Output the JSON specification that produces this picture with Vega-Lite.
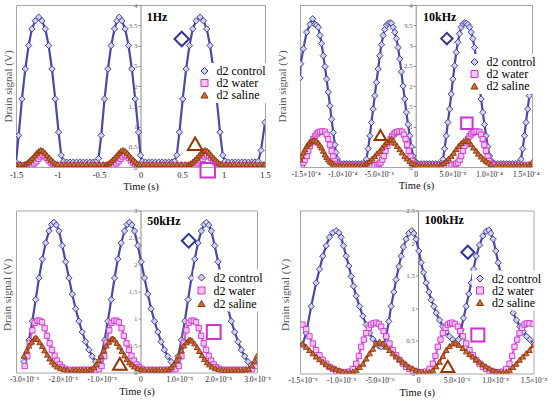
{
"$schema": "https://vega.github.io/schema/vega-lite/v6.json",
"background": "white",
"padding": 0,
"columns": 2,
"bounds": "flush",
"spacing": {"row": 43.5, "column": 35},
"datasets": {
"p1": [
{"s":"d2 control","t":-1.5,"v":0.12},{"s":"d2 control","t":-1.468,"v":0.78},{"s":"d2 control","t":-1.428,"v":1.68},{"s":"d2 control","t":-1.388,"v":2.42},{"s":"d2 control","t":-1.348,"v":3.0},{"s":"d2 control","t":-1.308,"v":3.41},{"s":"d2 control","t":-1.268,"v":3.61},{"s":"d2 control","t":-1.227,"v":3.7},{"s":"d2 control","t":-1.187,"v":3.61},{"s":"d2 control","t":-1.147,"v":3.41},{"s":"d2 control","t":-1.107,"v":3.0},{"s":"d2 control","t":-1.067,"v":2.42},{"s":"d2 control","t":-1.027,"v":1.68},{"s":"d2 control","t":-0.987,"v":0.86},{"s":"d2 control","t":-0.955,"v":0.29},{"s":"d2 control","t":-0.927,"v":0.14},{"s":"d2 control","t":-0.89,"v":0.12},{"s":"d2 control","t":-0.85,"v":0.12},{"s":"d2 control","t":-0.81,"v":0.12},{"s":"d2 control","t":-0.77,"v":0.12},{"s":"d2 control","t":-0.73,"v":0.12},{"s":"d2 control","t":-0.69,"v":0.12},{"s":"d2 control","t":-0.65,"v":0.12},{"s":"d2 control","t":-0.61,"v":0.12},{"s":"d2 control","t":-0.57,"v":0.12},{"s":"d2 control","t":-0.535,"v":0.13},{"s":"d2 control","t":-0.505,"v":0.21},{"s":"d2 control","t":-0.473,"v":0.78},{"s":"d2 control","t":-0.433,"v":1.68},{"s":"d2 control","t":-0.393,"v":2.42},{"s":"d2 control","t":-0.353,"v":3.0},{"s":"d2 control","t":-0.313,"v":3.41},{"s":"d2 control","t":-0.285,"v":3.61},{"s":"d2 control","t":-0.257,"v":3.7},{"s":"d2 control","t":-0.225,"v":3.61},{"s":"d2 control","t":-0.185,"v":3.41},{"s":"d2 control","t":-0.144,"v":3.0},{"s":"d2 control","t":-0.104,"v":2.42},{"s":"d2 control","t":-0.064,"v":1.68},{"s":"d2 control","t":-0.024,"v":0.86},{"s":"d2 control","t":0.0,"v":0.29},{"s":"d2 control","t":0.024,"v":0.14},{"s":"d2 control","t":0.06,"v":0.12},{"s":"d2 control","t":0.1,"v":0.12},{"s":"d2 control","t":0.14,"v":0.12},{"s":"d2 control","t":0.18,"v":0.12},{"s":"d2 control","t":0.22,"v":0.12},{"s":"d2 control","t":0.26,"v":0.12},{"s":"d2 control","t":0.3,"v":0.12},{"s":"d2 control","t":0.34,"v":0.12},{"s":"d2 control","t":0.38,"v":0.12},{"s":"d2 control","t":0.41,"v":0.14},{"s":"d2 control","t":0.437,"v":0.29},{"s":"d2 control","t":0.469,"v":0.86},{"s":"d2 control","t":0.509,"v":1.68},{"s":"d2 control","t":0.55,"v":2.42},{"s":"d2 control","t":0.59,"v":3.0},{"s":"d2 control","t":0.63,"v":3.41},{"s":"d2 control","t":0.67,"v":3.61},{"s":"d2 control","t":0.718,"v":3.7},{"s":"d2 control","t":0.758,"v":3.61},{"s":"d2 control","t":0.798,"v":3.41},{"s":"d2 control","t":0.838,"v":3.0},{"s":"d2 control","t":0.878,"v":2.42},{"s":"d2 control","t":0.918,"v":1.68},{"s":"d2 control","t":0.958,"v":0.86},{"s":"d2 control","t":0.991,"v":0.29},{"s":"d2 control","t":1.019,"v":0.14},{"s":"d2 control","t":1.06,"v":0.12},{"s":"d2 control","t":1.1,"v":0.12},{"s":"d2 control","t":1.14,"v":0.12},{"s":"d2 control","t":1.18,"v":0.12},{"s":"d2 control","t":1.22,"v":0.12},{"s":"d2 control","t":1.26,"v":0.12},{"s":"d2 control","t":1.3,"v":0.12},{"s":"d2 control","t":1.34,"v":0.12},{"s":"d2 control","t":1.38,"v":0.12},{"s":"d2 control","t":1.42,"v":0.14},{"s":"d2 control","t":1.452,"v":0.41},{"s":"d2 control","t":1.5,"v":1.1},
{"s":"d2 water","t":-1.5,"v":0.04},{"s":"d2 water","t":-1.45,"v":0.04},{"s":"d2 water","t":-1.4,"v":0.04},{"s":"d2 water","t":-1.35,"v":0.04},{"s":"d2 water","t":-1.305,"v":0.06},{"s":"d2 water","t":-1.28,"v":0.09},{"s":"d2 water","t":-1.255,"v":0.14},{"s":"d2 water","t":-1.23,"v":0.2},{"s":"d2 water","t":-1.205,"v":0.26},{"s":"d2 water","t":-1.18,"v":0.3},{"s":"d2 water","t":-1.155,"v":0.27},{"s":"d2 water","t":-1.13,"v":0.22},{"s":"d2 water","t":-1.105,"v":0.16},{"s":"d2 water","t":-1.08,"v":0.11},{"s":"d2 water","t":-1.055,"v":0.07},{"s":"d2 water","t":-1.03,"v":0.05},{"s":"d2 water","t":-1.005,"v":0.04},{"s":"d2 water","t":-0.96,"v":0.04},{"s":"d2 water","t":-0.91,"v":0.04},{"s":"d2 water","t":-0.86,"v":0.04},{"s":"d2 water","t":-0.81,"v":0.04},{"s":"d2 water","t":-0.76,"v":0.04},{"s":"d2 water","t":-0.71,"v":0.04},{"s":"d2 water","t":-0.66,"v":0.04},{"s":"d2 water","t":-0.61,"v":0.04},{"s":"d2 water","t":-0.56,"v":0.04},{"s":"d2 water","t":-0.51,"v":0.04},{"s":"d2 water","t":-0.46,"v":0.04},{"s":"d2 water","t":-0.4,"v":0.04},{"s":"d2 water","t":-0.365,"v":0.04},{"s":"d2 water","t":-0.315,"v":0.06},{"s":"d2 water","t":-0.29,"v":0.09},{"s":"d2 water","t":-0.265,"v":0.14},{"s":"d2 water","t":-0.24,"v":0.2},{"s":"d2 water","t":-0.215,"v":0.26},{"s":"d2 water","t":-0.19,"v":0.3},{"s":"d2 water","t":-0.165,"v":0.27},{"s":"d2 water","t":-0.14,"v":0.22},{"s":"d2 water","t":-0.115,"v":0.16},{"s":"d2 water","t":-0.09,"v":0.11},{"s":"d2 water","t":-0.065,"v":0.07},{"s":"d2 water","t":-0.04,"v":0.05},{"s":"d2 water","t":-0.015,"v":0.04},{"s":"d2 water","t":0.03,"v":0.04},{"s":"d2 water","t":0.08,"v":0.04},{"s":"d2 water","t":0.13,"v":0.04},{"s":"d2 water","t":0.18,"v":0.04},{"s":"d2 water","t":0.23,"v":0.04},{"s":"d2 water","t":0.28,"v":0.04},{"s":"d2 water","t":0.33,"v":0.04},{"s":"d2 water","t":0.38,"v":0.04},{"s":"d2 water","t":0.43,"v":0.04},{"s":"d2 water","t":0.48,"v":0.04},{"s":"d2 water","t":0.53,"v":0.04},{"s":"d2 water","t":0.6,"v":0.04},{"s":"d2 water","t":0.65,"v":0.04},{"s":"d2 water","t":0.675,"v":0.06},{"s":"d2 water","t":0.7,"v":0.09},{"s":"d2 water","t":0.725,"v":0.14},{"s":"d2 water","t":0.75,"v":0.2},{"s":"d2 water","t":0.775,"v":0.26},{"s":"d2 water","t":0.8,"v":0.3},{"s":"d2 water","t":0.825,"v":0.27},{"s":"d2 water","t":0.85,"v":0.22},{"s":"d2 water","t":0.875,"v":0.16},{"s":"d2 water","t":0.9,"v":0.11},{"s":"d2 water","t":0.925,"v":0.07},{"s":"d2 water","t":0.95,"v":0.05},{"s":"d2 water","t":0.975,"v":0.04},{"s":"d2 water","t":1.02,"v":0.04},{"s":"d2 water","t":1.07,"v":0.04},{"s":"d2 water","t":1.12,"v":0.04},{"s":"d2 water","t":1.17,"v":0.04},{"s":"d2 water","t":1.22,"v":0.04},{"s":"d2 water","t":1.27,"v":0.04},{"s":"d2 water","t":1.32,"v":0.04},{"s":"d2 water","t":1.37,"v":0.04},{"s":"d2 water","t":1.42,"v":0.04},{"s":"d2 water","t":1.47,"v":0.04},{"s":"d2 water","t":1.5,"v":0.04},
{"s":"d2 saline","t":-1.5,"v":0.07},{"s":"d2 saline","t":-1.45,"v":0.07},{"s":"d2 saline","t":-1.4,"v":0.07},{"s":"d2 saline","t":-1.375,"v":0.09},{"s":"d2 saline","t":-1.35,"v":0.13},{"s":"d2 saline","t":-1.325,"v":0.18},{"s":"d2 saline","t":-1.3,"v":0.23},{"s":"d2 saline","t":-1.275,"v":0.29},{"s":"d2 saline","t":-1.25,"v":0.35},{"s":"d2 saline","t":-1.225,"v":0.4},{"s":"d2 saline","t":-1.2,"v":0.42},{"s":"d2 saline","t":-1.175,"v":0.4},{"s":"d2 saline","t":-1.15,"v":0.35},{"s":"d2 saline","t":-1.125,"v":0.29},{"s":"d2 saline","t":-1.1,"v":0.23},{"s":"d2 saline","t":-1.075,"v":0.18},{"s":"d2 saline","t":-1.05,"v":0.13},{"s":"d2 saline","t":-1.025,"v":0.09},{"s":"d2 saline","t":-1.0,"v":0.07},{"s":"d2 saline","t":-0.95,"v":0.07},{"s":"d2 saline","t":-0.9,"v":0.07},{"s":"d2 saline","t":-0.85,"v":0.07},{"s":"d2 saline","t":-0.8,"v":0.07},{"s":"d2 saline","t":-0.75,"v":0.07},{"s":"d2 saline","t":-0.7,"v":0.07},{"s":"d2 saline","t":-0.65,"v":0.07},{"s":"d2 saline","t":-0.6,"v":0.07},{"s":"d2 saline","t":-0.55,"v":0.07},{"s":"d2 saline","t":-0.5,"v":0.07},{"s":"d2 saline","t":-0.45,"v":0.07},{"s":"d2 saline","t":-0.41,"v":0.07},{"s":"d2 saline","t":-0.385,"v":0.09},{"s":"d2 saline","t":-0.36,"v":0.13},{"s":"d2 saline","t":-0.335,"v":0.18},{"s":"d2 saline","t":-0.31,"v":0.23},{"s":"d2 saline","t":-0.285,"v":0.29},{"s":"d2 saline","t":-0.26,"v":0.35},{"s":"d2 saline","t":-0.235,"v":0.4},{"s":"d2 saline","t":-0.21,"v":0.42},{"s":"d2 saline","t":-0.185,"v":0.4},{"s":"d2 saline","t":-0.16,"v":0.35},{"s":"d2 saline","t":-0.135,"v":0.29},{"s":"d2 saline","t":-0.11,"v":0.23},{"s":"d2 saline","t":-0.085,"v":0.18},{"s":"d2 saline","t":-0.06,"v":0.13},{"s":"d2 saline","t":-0.035,"v":0.09},{"s":"d2 saline","t":-0.01,"v":0.07},{"s":"d2 saline","t":0.04,"v":0.07},{"s":"d2 saline","t":0.09,"v":0.07},{"s":"d2 saline","t":0.14,"v":0.07},{"s":"d2 saline","t":0.19,"v":0.07},{"s":"d2 saline","t":0.24,"v":0.07},{"s":"d2 saline","t":0.29,"v":0.07},{"s":"d2 saline","t":0.34,"v":0.07},{"s":"d2 saline","t":0.39,"v":0.07},{"s":"d2 saline","t":0.44,"v":0.07},{"s":"d2 saline","t":0.49,"v":0.07},{"s":"d2 saline","t":0.54,"v":0.07},{"s":"d2 saline","t":0.58,"v":0.07},{"s":"d2 saline","t":0.605,"v":0.09},{"s":"d2 saline","t":0.63,"v":0.13},{"s":"d2 saline","t":0.655,"v":0.18},{"s":"d2 saline","t":0.68,"v":0.23},{"s":"d2 saline","t":0.705,"v":0.29},{"s":"d2 saline","t":0.73,"v":0.35},{"s":"d2 saline","t":0.755,"v":0.4},{"s":"d2 saline","t":0.78,"v":0.42},{"s":"d2 saline","t":0.805,"v":0.4},{"s":"d2 saline","t":0.83,"v":0.35},{"s":"d2 saline","t":0.855,"v":0.29},{"s":"d2 saline","t":0.88,"v":0.23},{"s":"d2 saline","t":0.905,"v":0.18},{"s":"d2 saline","t":0.93,"v":0.13},{"s":"d2 saline","t":0.955,"v":0.09},{"s":"d2 saline","t":0.98,"v":0.07},{"s":"d2 saline","t":1.03,"v":0.07},{"s":"d2 saline","t":1.08,"v":0.07},{"s":"d2 saline","t":1.13,"v":0.07},{"s":"d2 saline","t":1.18,"v":0.07},{"s":"d2 saline","t":1.23,"v":0.07},{"s":"d2 saline","t":1.28,"v":0.07},{"s":"d2 saline","t":1.33,"v":0.07},{"s":"d2 saline","t":1.38,"v":0.07},{"s":"d2 saline","t":1.43,"v":0.07},{"s":"d2 saline","t":1.48,"v":0.07},{"s":"d2 saline","t":1.5,"v":0.07}
],
"p2": [
{"s":"d2 control","t":-15.75e-5,"v":2.2},{"s":"d2 control","t":-15.66e-5,"v":2.55},{"s":"d2 control","t":-15.29e-5,"v":2.92},{"s":"d2 control","t":-14.84e-5,"v":3.33},{"s":"d2 control","t":-14.39e-5,"v":3.52},{"s":"d2 control","t":-14.03e-5,"v":3.66},{"s":"d2 control","t":-13.71e-5,"v":3.52},{"s":"d2 control","t":-13.48e-5,"v":3.5},{"s":"d2 control","t":-13.26e-5,"v":3.45},{"s":"d2 control","t":-13.03e-5,"v":3.25},{"s":"d2 control","t":-12.81e-5,"v":3.05},{"s":"d2 control","t":-12.58e-5,"v":2.75},{"s":"d2 control","t":-12.35e-5,"v":2.48},{"s":"d2 control","t":-12.13e-5,"v":2.17},{"s":"d2 control","t":-11.9e-5,"v":1.85},{"s":"d2 control","t":-11.67e-5,"v":1.51},{"s":"d2 control","t":-11.45e-5,"v":1.18},{"s":"d2 control","t":-11.22e-5,"v":0.85},{"s":"d2 control","t":-11.0e-5,"v":0.55},{"s":"d2 control","t":-10.86e-5,"v":0.36},{"s":"d2 control","t":-10.68e-5,"v":0.2},{"s":"d2 control","t":-10.54e-5,"v":0.11},{"s":"d2 control","t":-10.2e-5,"v":0.08},{"s":"d2 control","t":-9.8e-5,"v":0.08},{"s":"d2 control","t":-9.4e-5,"v":0.08},{"s":"d2 control","t":-9.0e-5,"v":0.08},{"s":"d2 control","t":-8.6e-5,"v":0.08},{"s":"d2 control","t":-8.2e-5,"v":0.08},{"s":"d2 control","t":-7.8e-5,"v":0.08},{"s":"d2 control","t":-7.4e-5,"v":0.08},{"s":"d2 control","t":-7.05e-5,"v":0.1},{"s":"d2 control","t":-6.7e-5,"v":0.19},{"s":"d2 control","t":-6.47e-5,"v":0.45},{"s":"d2 control","t":-6.24e-5,"v":0.77},{"s":"d2 control","t":-6.02e-5,"v":1.1},{"s":"d2 control","t":-5.79e-5,"v":1.43},{"s":"d2 control","t":-5.57e-5,"v":1.76},{"s":"d2 control","t":-5.34e-5,"v":2.09},{"s":"d2 control","t":-5.11e-5,"v":2.42},{"s":"d2 control","t":-4.89e-5,"v":2.75},{"s":"d2 control","t":-4.66e-5,"v":3.02},{"s":"d2 control","t":-4.43e-5,"v":3.25},{"s":"d2 control","t":-4.21e-5,"v":3.4},{"s":"d2 control","t":-3.98e-5,"v":3.5},{"s":"d2 control","t":-3.75e-5,"v":3.54},{"s":"d2 control","t":-3.53e-5,"v":3.56},{"s":"d2 control","t":-3.3e-5,"v":3.55},{"s":"d2 control","t":-3.08e-5,"v":3.45},{"s":"d2 control","t":-2.85e-5,"v":3.33},{"s":"d2 control","t":-2.62e-5,"v":3.17},{"s":"d2 control","t":-2.4e-5,"v":2.95},{"s":"d2 control","t":-2.17e-5,"v":2.67},{"s":"d2 control","t":-1.95e-5,"v":2.35},{"s":"d2 control","t":-1.72e-5,"v":2.0},{"s":"d2 control","t":-1.49e-5,"v":1.68},{"s":"d2 control","t":-1.27e-5,"v":1.35},{"s":"d2 control","t":-1.04e-5,"v":1.05},{"s":"d2 control","t":-0.81e-5,"v":0.77},{"s":"d2 control","t":-0.59e-5,"v":0.5},{"s":"d2 control","t":-0.36e-5,"v":0.27},{"s":"d2 control","t":-0.14e-5,"v":0.15},{"s":"d2 control","t":0,"v":0.11},{"s":"d2 control","t":0.3e-5,"v":0.08},{"s":"d2 control","t":0.7e-5,"v":0.08},{"s":"d2 control","t":1.1e-5,"v":0.08},{"s":"d2 control","t":1.5e-5,"v":0.08},{"s":"d2 control","t":1.9e-5,"v":0.08},{"s":"d2 control","t":2.3e-5,"v":0.08},{"s":"d2 control","t":2.7e-5,"v":0.08},{"s":"d2 control","t":3.1e-5,"v":0.08},{"s":"d2 control","t":3.48e-5,"v":0.1},{"s":"d2 control","t":3.71e-5,"v":0.19},{"s":"d2 control","t":3.94e-5,"v":0.45},{"s":"d2 control","t":4.16e-5,"v":0.77},{"s":"d2 control","t":4.39e-5,"v":1.1},{"s":"d2 control","t":4.62e-5,"v":1.43},{"s":"d2 control","t":4.84e-5,"v":1.8},{"s":"d2 control","t":5.07e-5,"v":2.17},{"s":"d2 control","t":5.3e-5,"v":2.5},{"s":"d2 control","t":5.52e-5,"v":2.83},{"s":"d2 control","t":5.75e-5,"v":3.08},{"s":"d2 control","t":5.97e-5,"v":3.29},{"s":"d2 control","t":6.2e-5,"v":3.45},{"s":"d2 control","t":6.43e-5,"v":3.53},{"s":"d2 control","t":6.65e-5,"v":3.56},{"s":"d2 control","t":6.88e-5,"v":3.55},{"s":"d2 control","t":7.1e-5,"v":3.52},{"s":"d2 control","t":7.33e-5,"v":3.45},{"s":"d2 control","t":7.56e-5,"v":3.33},{"s":"d2 control","t":7.78e-5,"v":3.17},{"s":"d2 control","t":8.01e-5,"v":2.95},{"s":"d2 control","t":8.24e-5,"v":2.67},{"s":"d2 control","t":8.46e-5,"v":2.35},{"s":"d2 control","t":8.69e-5,"v":2.0},{"s":"d2 control","t":8.91e-5,"v":1.68},{"s":"d2 control","t":9.14e-5,"v":1.35},{"s":"d2 control","t":9.37e-5,"v":1.05},{"s":"d2 control","t":9.59e-5,"v":0.77},{"s":"d2 control","t":9.82e-5,"v":0.5},{"s":"d2 control","t":10.05e-5,"v":0.27},{"s":"d2 control","t":10.27e-5,"v":0.15},{"s":"d2 control","t":10.41e-5,"v":0.11},{"s":"d2 control","t":10.8e-5,"v":0.08},{"s":"d2 control","t":11.2e-5,"v":0.08},{"s":"d2 control","t":11.6e-5,"v":0.08},{"s":"d2 control","t":12.0e-5,"v":0.08},{"s":"d2 control","t":12.4e-5,"v":0.08},{"s":"d2 control","t":12.8e-5,"v":0.08},{"s":"d2 control","t":13.2e-5,"v":0.08},{"s":"d2 control","t":13.6e-5,"v":0.08},{"s":"d2 control","t":14.0e-5,"v":0.1},{"s":"d2 control","t":14.34e-5,"v":0.19},{"s":"d2 control","t":14.57e-5,"v":0.45},{"s":"d2 control","t":14.8e-5,"v":0.77},{"s":"d2 control","t":15.02e-5,"v":1.1},{"s":"d2 control","t":15.25e-5,"v":1.43},{"s":"d2 control","t":15.48e-5,"v":1.76},{"s":"d2 control","t":15.7e-5,"v":2.1},{"s":"d2 control","t":15.84e-5,"v":2.35},
{"s":"d2 water","t":-15.75e-5,"v":0.05},{"s":"d2 water","t":-15.5e-5,"v":0.06},{"s":"d2 water","t":-15.29e-5,"v":0.11},{"s":"d2 water","t":-15.07e-5,"v":0.18},{"s":"d2 water","t":-14.84e-5,"v":0.27},{"s":"d2 water","t":-14.62e-5,"v":0.4},{"s":"d2 water","t":-14.39e-5,"v":0.52},{"s":"d2 water","t":-14.16e-5,"v":0.61},{"s":"d2 water","t":-13.94e-5,"v":0.69},{"s":"d2 water","t":-13.71e-5,"v":0.76},{"s":"d2 water","t":-13.48e-5,"v":0.81},{"s":"d2 water","t":-13.26e-5,"v":0.85},{"s":"d2 water","t":-13.03e-5,"v":0.87},{"s":"d2 water","t":-12.71e-5,"v":0.88},{"s":"d2 water","t":-12.35e-5,"v":0.87},{"s":"d2 water","t":-12.13e-5,"v":0.8},{"s":"d2 water","t":-11.9e-5,"v":0.69},{"s":"d2 water","t":-11.67e-5,"v":0.55},{"s":"d2 water","t":-11.45e-5,"v":0.4},{"s":"d2 water","t":-11.22e-5,"v":0.26},{"s":"d2 water","t":-11.0e-5,"v":0.15},{"s":"d2 water","t":-10.77e-5,"v":0.08},{"s":"d2 water","t":-10.4e-5,"v":0.05},{"s":"d2 water","t":-10.0e-5,"v":0.05},{"s":"d2 water","t":-9.6e-5,"v":0.05},{"s":"d2 water","t":-9.2e-5,"v":0.05},{"s":"d2 water","t":-8.8e-5,"v":0.05},{"s":"d2 water","t":-8.4e-5,"v":0.05},{"s":"d2 water","t":-8.0e-5,"v":0.05},{"s":"d2 water","t":-7.6e-5,"v":0.05},{"s":"d2 water","t":-7.2e-5,"v":0.05},{"s":"d2 water","t":-6.8e-5,"v":0.05},{"s":"d2 water","t":-6.4e-5,"v":0.05},{"s":"d2 water","t":-6.0e-5,"v":0.05},{"s":"d2 water","t":-5.6e-5,"v":0.05},{"s":"d2 water","t":-5.2e-5,"v":0.05},{"s":"d2 water","t":-5.0e-5,"v":0.08},{"s":"d2 water","t":-4.78e-5,"v":0.11},{"s":"d2 water","t":-4.55e-5,"v":0.18},{"s":"d2 water","t":-4.33e-5,"v":0.27},{"s":"d2 water","t":-4.1e-5,"v":0.4},{"s":"d2 water","t":-3.87e-5,"v":0.52},{"s":"d2 water","t":-3.65e-5,"v":0.61},{"s":"d2 water","t":-3.42e-5,"v":0.69},{"s":"d2 water","t":-3.19e-5,"v":0.76},{"s":"d2 water","t":-2.97e-5,"v":0.81},{"s":"d2 water","t":-2.74e-5,"v":0.85},{"s":"d2 water","t":-2.51e-5,"v":0.87},{"s":"d2 water","t":-2.2e-5,"v":0.88},{"s":"d2 water","t":-1.84e-5,"v":0.87},{"s":"d2 water","t":-1.61e-5,"v":0.8},{"s":"d2 water","t":-1.38e-5,"v":0.69},{"s":"d2 water","t":-1.16e-5,"v":0.55},{"s":"d2 water","t":-0.93e-5,"v":0.4},{"s":"d2 water","t":-0.7e-5,"v":0.26},{"s":"d2 water","t":-0.48e-5,"v":0.15},{"s":"d2 water","t":-0.25e-5,"v":0.08},{"s":"d2 water","t":0.1e-5,"v":0.05},{"s":"d2 water","t":0.5e-5,"v":0.05},{"s":"d2 water","t":0.9e-5,"v":0.05},{"s":"d2 water","t":1.3e-5,"v":0.05},{"s":"d2 water","t":1.7e-5,"v":0.05},{"s":"d2 water","t":2.1e-5,"v":0.05},{"s":"d2 water","t":2.5e-5,"v":0.05},{"s":"d2 water","t":2.9e-5,"v":0.05},{"s":"d2 water","t":3.3e-5,"v":0.05},{"s":"d2 water","t":3.7e-5,"v":0.05},{"s":"d2 water","t":4.1e-5,"v":0.05},{"s":"d2 water","t":4.5e-5,"v":0.05},{"s":"d2 water","t":4.9e-5,"v":0.05},{"s":"d2 water","t":5.3e-5,"v":0.06},{"s":"d2 water","t":5.52e-5,"v":0.08},{"s":"d2 water","t":5.75e-5,"v":0.11},{"s":"d2 water","t":5.98e-5,"v":0.18},{"s":"d2 water","t":6.2e-5,"v":0.27},{"s":"d2 water","t":6.43e-5,"v":0.4},{"s":"d2 water","t":6.65e-5,"v":0.52},{"s":"d2 water","t":6.88e-5,"v":0.61},{"s":"d2 water","t":7.11e-5,"v":0.69},{"s":"d2 water","t":7.33e-5,"v":0.76},{"s":"d2 water","t":7.56e-5,"v":0.81},{"s":"d2 water","t":7.79e-5,"v":0.85},{"s":"d2 water","t":8.01e-5,"v":0.87},{"s":"d2 water","t":8.3e-5,"v":0.88},{"s":"d2 water","t":8.66e-5,"v":0.87},{"s":"d2 water","t":8.89e-5,"v":0.8},{"s":"d2 water","t":9.12e-5,"v":0.69},{"s":"d2 water","t":9.34e-5,"v":0.55},{"s":"d2 water","t":9.57e-5,"v":0.4},{"s":"d2 water","t":9.8e-5,"v":0.26},{"s":"d2 water","t":10.02e-5,"v":0.15},{"s":"d2 water","t":10.25e-5,"v":0.08},{"s":"d2 water","t":10.6e-5,"v":0.05},{"s":"d2 water","t":11.0e-5,"v":0.05},{"s":"d2 water","t":11.4e-5,"v":0.05},{"s":"d2 water","t":11.8e-5,"v":0.05},{"s":"d2 water","t":12.2e-5,"v":0.05},{"s":"d2 water","t":12.6e-5,"v":0.05},{"s":"d2 water","t":13.0e-5,"v":0.05},{"s":"d2 water","t":13.4e-5,"v":0.05},{"s":"d2 water","t":13.8e-5,"v":0.05},{"s":"d2 water","t":14.2e-5,"v":0.05},{"s":"d2 water","t":14.6e-5,"v":0.05},{"s":"d2 water","t":15.0e-5,"v":0.05},{"s":"d2 water","t":15.4e-5,"v":0.05},{"s":"d2 water","t":15.84e-5,"v":0.05},
{"s":"d2 saline","t":-15.75e-5,"v":0.19},{"s":"d2 saline","t":-15.52e-5,"v":0.27},{"s":"d2 saline","t":-15.29e-5,"v":0.36},{"s":"d2 saline","t":-15.07e-5,"v":0.44},{"s":"d2 saline","t":-14.84e-5,"v":0.52},{"s":"d2 saline","t":-14.62e-5,"v":0.57},{"s":"d2 saline","t":-14.39e-5,"v":0.61},{"s":"d2 saline","t":-14.12e-5,"v":0.65},{"s":"d2 saline","t":-13.85e-5,"v":0.67},{"s":"d2 saline","t":-13.57e-5,"v":0.65},{"s":"d2 saline","t":-13.26e-5,"v":0.6},{"s":"d2 saline","t":-13.03e-5,"v":0.54},{"s":"d2 saline","t":-12.81e-5,"v":0.48},{"s":"d2 saline","t":-12.58e-5,"v":0.4},{"s":"d2 saline","t":-12.35e-5,"v":0.31},{"s":"d2 saline","t":-12.13e-5,"v":0.25},{"s":"d2 saline","t":-11.9e-5,"v":0.19},{"s":"d2 saline","t":-11.67e-5,"v":0.14},{"s":"d2 saline","t":-11.45e-5,"v":0.11},{"s":"d2 saline","t":-11.22e-5,"v":0.08},{"s":"d2 saline","t":-11.0e-5,"v":0.05},{"s":"d2 saline","t":-10.6e-5,"v":0.04},{"s":"d2 saline","t":-10.2e-5,"v":0.04},{"s":"d2 saline","t":-9.8e-5,"v":0.04},{"s":"d2 saline","t":-9.4e-5,"v":0.04},{"s":"d2 saline","t":-9.0e-5,"v":0.04},{"s":"d2 saline","t":-8.6e-5,"v":0.04},{"s":"d2 saline","t":-8.2e-5,"v":0.04},{"s":"d2 saline","t":-7.8e-5,"v":0.04},{"s":"d2 saline","t":-7.4e-5,"v":0.04},{"s":"d2 saline","t":-6.92e-5,"v":0.07},{"s":"d2 saline","t":-6.61e-5,"v":0.11},{"s":"d2 saline","t":-6.24e-5,"v":0.15},{"s":"d2 saline","t":-5.93e-5,"v":0.21},{"s":"d2 saline","t":-5.57e-5,"v":0.27},{"s":"d2 saline","t":-5.25e-5,"v":0.34},{"s":"d2 saline","t":-4.89e-5,"v":0.4},{"s":"d2 saline","t":-4.57e-5,"v":0.48},{"s":"d2 saline","t":-4.21e-5,"v":0.56},{"s":"d2 saline","t":-3.89e-5,"v":0.62},{"s":"d2 saline","t":-3.53e-5,"v":0.67},{"s":"d2 saline","t":-3.3e-5,"v":0.69},{"s":"d2 saline","t":-3.08e-5,"v":0.66},{"s":"d2 saline","t":-2.85e-5,"v":0.6},{"s":"d2 saline","t":-2.53e-5,"v":0.52},{"s":"d2 saline","t":-2.17e-5,"v":0.44},{"s":"d2 saline","t":-1.86e-5,"v":0.36},{"s":"d2 saline","t":-1.49e-5,"v":0.27},{"s":"d2 saline","t":-1.18e-5,"v":0.21},{"s":"d2 saline","t":-0.81e-5,"v":0.15},{"s":"d2 saline","t":-0.5e-5,"v":0.1},{"s":"d2 saline","t":-0.14e-5,"v":0.07},{"s":"d2 saline","t":0.2e-5,"v":0.05},{"s":"d2 saline","t":0.54e-5,"v":0.04},{"s":"d2 saline","t":0.9e-5,"v":0.04},{"s":"d2 saline","t":1.3e-5,"v":0.04},{"s":"d2 saline","t":1.7e-5,"v":0.04},{"s":"d2 saline","t":2.1e-5,"v":0.04},{"s":"d2 saline","t":2.5e-5,"v":0.04},{"s":"d2 saline","t":2.9e-5,"v":0.04},{"s":"d2 saline","t":3.3e-5,"v":0.04},{"s":"d2 saline","t":3.48e-5,"v":0.05},{"s":"d2 saline","t":3.8e-5,"v":0.1},{"s":"d2 saline","t":4.16e-5,"v":0.15},{"s":"d2 saline","t":4.48e-5,"v":0.21},{"s":"d2 saline","t":4.84e-5,"v":0.27},{"s":"d2 saline","t":5.16e-5,"v":0.35},{"s":"d2 saline","t":5.52e-5,"v":0.44},{"s":"d2 saline","t":5.84e-5,"v":0.52},{"s":"d2 saline","t":6.2e-5,"v":0.59},{"s":"d2 saline","t":6.52e-5,"v":0.64},{"s":"d2 saline","t":6.88e-5,"v":0.67},{"s":"d2 saline","t":7.19e-5,"v":0.64},{"s":"d2 saline","t":7.56e-5,"v":0.56},{"s":"d2 saline","t":7.87e-5,"v":0.48},{"s":"d2 saline","t":8.24e-5,"v":0.4},{"s":"d2 saline","t":8.55e-5,"v":0.33},{"s":"d2 saline","t":8.91e-5,"v":0.26},{"s":"d2 saline","t":9.23e-5,"v":0.2},{"s":"d2 saline","t":9.59e-5,"v":0.15},{"s":"d2 saline","t":9.91e-5,"v":0.11},{"s":"d2 saline","t":10.27e-5,"v":0.07},{"s":"d2 saline","t":10.95e-5,"v":0.04},{"s":"d2 saline","t":11.4e-5,"v":0.04},{"s":"d2 saline","t":11.8e-5,"v":0.04},{"s":"d2 saline","t":12.2e-5,"v":0.04},{"s":"d2 saline","t":12.6e-5,"v":0.04},{"s":"d2 saline","t":13.0e-5,"v":0.04},{"s":"d2 saline","t":13.4e-5,"v":0.04},{"s":"d2 saline","t":13.8e-5,"v":0.04},{"s":"d2 saline","t":14.2e-5,"v":0.04},{"s":"d2 saline","t":14.6e-5,"v":0.04},{"s":"d2 saline","t":15.0e-5,"v":0.04},{"s":"d2 saline","t":15.48e-5,"v":0.07},{"s":"d2 saline","t":15.84e-5,"v":0.12}
],
"p3": [
{"s":"d2 control","t":-3.0e-5,"v":0.2},{"s":"d2 control","t":-2.956e-5,"v":0.3},{"s":"d2 control","t":-2.871e-5,"v":0.6},{"s":"d2 control","t":-2.785e-5,"v":0.95},{"s":"d2 control","t":-2.699e-5,"v":1.35},{"s":"d2 control","t":-2.614e-5,"v":1.75},{"s":"d2 control","t":-2.528e-5,"v":2.1},{"s":"d2 control","t":-2.442e-5,"v":2.4},{"s":"d2 control","t":-2.356e-5,"v":2.62},{"s":"d2 control","t":-2.288e-5,"v":2.74},{"s":"d2 control","t":-2.228e-5,"v":2.78},{"s":"d2 control","t":-2.168e-5,"v":2.73},{"s":"d2 control","t":-2.099e-5,"v":2.62},{"s":"d2 control","t":-2.014e-5,"v":2.35},{"s":"d2 control","t":-1.928e-5,"v":2.05},{"s":"d2 control","t":-1.842e-5,"v":1.75},{"s":"d2 control","t":-1.757e-5,"v":1.45},{"s":"d2 control","t":-1.671e-5,"v":1.18},{"s":"d2 control","t":-1.585e-5,"v":0.95},{"s":"d2 control","t":-1.5e-5,"v":0.75},{"s":"d2 control","t":-1.414e-5,"v":0.57},{"s":"d2 control","t":-1.328e-5,"v":0.42},{"s":"d2 control","t":-1.243e-5,"v":0.3},{"s":"d2 control","t":-1.157e-5,"v":0.2},{"s":"d2 control","t":-1.088e-5,"v":0.14},{"s":"d2 control","t":-1.011e-5,"v":0.3},{"s":"d2 control","t":-0.925e-5,"v":0.6},{"s":"d2 control","t":-0.84e-5,"v":0.95},{"s":"d2 control","t":-0.754e-5,"v":1.35},{"s":"d2 control","t":-0.668e-5,"v":1.75},{"s":"d2 control","t":-0.583e-5,"v":2.1},{"s":"d2 control","t":-0.497e-5,"v":2.4},{"s":"d2 control","t":-0.411e-5,"v":2.62},{"s":"d2 control","t":-0.343e-5,"v":2.74},{"s":"d2 control","t":-0.283e-5,"v":2.78},{"s":"d2 control","t":-0.223e-5,"v":2.73},{"s":"d2 control","t":-0.154e-5,"v":2.62},{"s":"d2 control","t":-0.069e-5,"v":2.35},{"s":"d2 control","t":0.017e-5,"v":2.05},{"s":"d2 control","t":0.103e-5,"v":1.75},{"s":"d2 control","t":0.189e-5,"v":1.45},{"s":"d2 control","t":0.274e-5,"v":1.18},{"s":"d2 control","t":0.36e-5,"v":0.95},{"s":"d2 control","t":0.446e-5,"v":0.75},{"s":"d2 control","t":0.531e-5,"v":0.57},{"s":"d2 control","t":0.617e-5,"v":0.42},{"s":"d2 control","t":0.703e-5,"v":0.3},{"s":"d2 control","t":0.788e-5,"v":0.2},{"s":"d2 control","t":0.874e-5,"v":0.14},{"s":"d2 control","t":0.968e-5,"v":0.3},{"s":"d2 control","t":1.054e-5,"v":0.6},{"s":"d2 control","t":1.14e-5,"v":0.95},{"s":"d2 control","t":1.225e-5,"v":1.35},{"s":"d2 control","t":1.311e-5,"v":1.75},{"s":"d2 control","t":1.397e-5,"v":2.1},{"s":"d2 control","t":1.482e-5,"v":2.4},{"s":"d2 control","t":1.568e-5,"v":2.62},{"s":"d2 control","t":1.637e-5,"v":2.74},{"s":"d2 control","t":1.697e-5,"v":2.78},{"s":"d2 control","t":1.757e-5,"v":2.73},{"s":"d2 control","t":1.825e-5,"v":2.62},{"s":"d2 control","t":1.911e-5,"v":2.35},{"s":"d2 control","t":1.997e-5,"v":2.05},{"s":"d2 control","t":2.082e-5,"v":1.75},{"s":"d2 control","t":2.168e-5,"v":1.45},{"s":"d2 control","t":2.254e-5,"v":1.18},{"s":"d2 control","t":2.339e-5,"v":0.95},{"s":"d2 control","t":2.425e-5,"v":0.75},{"s":"d2 control","t":2.511e-5,"v":0.57},{"s":"d2 control","t":2.596e-5,"v":0.42},{"s":"d2 control","t":2.682e-5,"v":0.3},{"s":"d2 control","t":2.768e-5,"v":0.2},{"s":"d2 control","t":2.853e-5,"v":0.14},{"s":"d2 control","t":2.931e-5,"v":0.13},{"s":"d2 control","t":3.0e-5,"v":0.15},
{"s":"d2 water","t":-2.982e-5,"v":0.12},{"s":"d2 water","t":-2.913e-5,"v":0.3},{"s":"d2 water","t":-2.853e-5,"v":0.55},{"s":"d2 water","t":-2.785e-5,"v":0.78},{"s":"d2 water","t":-2.725e-5,"v":0.92},{"s":"d2 water","t":-2.656e-5,"v":0.96},{"s":"d2 water","t":-2.596e-5,"v":0.96},{"s":"d2 water","t":-2.536e-5,"v":0.93},{"s":"d2 water","t":-2.468e-5,"v":0.82},{"s":"d2 water","t":-2.408e-5,"v":0.68},{"s":"d2 water","t":-2.339e-5,"v":0.54},{"s":"d2 water","t":-2.279e-5,"v":0.42},{"s":"d2 water","t":-2.211e-5,"v":0.31},{"s":"d2 water","t":-2.151e-5,"v":0.22},{"s":"d2 water","t":-2.082e-5,"v":0.15},{"s":"d2 water","t":-2.022e-5,"v":0.1},{"s":"d2 water","t":-1.954e-5,"v":0.07},{"s":"d2 water","t":-1.868e-5,"v":0.05},{"s":"d2 water","t":-1.757e-5,"v":0.05},{"s":"d2 water","t":-1.671e-5,"v":0.05},{"s":"d2 water","t":-1.585e-5,"v":0.05},{"s":"d2 water","t":-1.5e-5,"v":0.05},{"s":"d2 water","t":-1.414e-5,"v":0.05},{"s":"d2 water","t":-1.328e-5,"v":0.05},{"s":"d2 water","t":-1.243e-5,"v":0.05},{"s":"d2 water","t":-1.157e-5,"v":0.05},{"s":"d2 water","t":-1.071e-5,"v":0.06},{"s":"d2 water","t":-1.003e-5,"v":0.12},{"s":"d2 water","t":-0.934e-5,"v":0.3},{"s":"d2 water","t":-0.874e-5,"v":0.55},{"s":"d2 water","t":-0.805e-5,"v":0.78},{"s":"d2 water","t":-0.745e-5,"v":0.92},{"s":"d2 water","t":-0.677e-5,"v":0.96},{"s":"d2 water","t":-0.617e-5,"v":0.96},{"s":"d2 water","t":-0.557e-5,"v":0.93},{"s":"d2 water","t":-0.488e-5,"v":0.82},{"s":"d2 water","t":-0.428e-5,"v":0.68},{"s":"d2 water","t":-0.36e-5,"v":0.54},{"s":"d2 water","t":-0.3e-5,"v":0.42},{"s":"d2 water","t":-0.231e-5,"v":0.31},{"s":"d2 water","t":-0.171e-5,"v":0.22},{"s":"d2 water","t":-0.103e-5,"v":0.15},{"s":"d2 water","t":-0.043e-5,"v":0.1},{"s":"d2 water","t":0.026e-5,"v":0.07},{"s":"d2 water","t":0.111e-5,"v":0.05},{"s":"d2 water","t":0.214e-5,"v":0.05},{"s":"d2 water","t":0.3e-5,"v":0.05},{"s":"d2 water","t":0.386e-5,"v":0.05},{"s":"d2 water","t":0.471e-5,"v":0.05},{"s":"d2 water","t":0.557e-5,"v":0.05},{"s":"d2 water","t":0.643e-5,"v":0.05},{"s":"d2 water","t":0.728e-5,"v":0.05},{"s":"d2 water","t":0.814e-5,"v":0.05},{"s":"d2 water","t":0.9e-5,"v":0.06},{"s":"d2 water","t":0.985e-5,"v":0.12},{"s":"d2 water","t":1.054e-5,"v":0.3},{"s":"d2 water","t":1.114e-5,"v":0.55},{"s":"d2 water","t":1.183e-5,"v":0.78},{"s":"d2 water","t":1.243e-5,"v":0.92},{"s":"d2 water","t":1.311e-5,"v":0.96},{"s":"d2 water","t":1.371e-5,"v":0.96},{"s":"d2 water","t":1.431e-5,"v":0.93},{"s":"d2 water","t":1.5e-5,"v":0.82},{"s":"d2 water","t":1.56e-5,"v":0.68},{"s":"d2 water","t":1.628e-5,"v":0.54},{"s":"d2 water","t":1.688e-5,"v":0.42},{"s":"d2 water","t":1.757e-5,"v":0.31},{"s":"d2 water","t":1.817e-5,"v":0.22},{"s":"d2 water","t":1.885e-5,"v":0.15},{"s":"d2 water","t":1.945e-5,"v":0.1},{"s":"d2 water","t":2.014e-5,"v":0.07},{"s":"d2 water","t":2.099e-5,"v":0.05},{"s":"d2 water","t":2.185e-5,"v":0.05},{"s":"d2 water","t":2.271e-5,"v":0.05},{"s":"d2 water","t":2.356e-5,"v":0.05},{"s":"d2 water","t":2.442e-5,"v":0.05},{"s":"d2 water","t":2.528e-5,"v":0.05},{"s":"d2 water","t":2.614e-5,"v":0.05},{"s":"d2 water","t":2.699e-5,"v":0.05},{"s":"d2 water","t":2.785e-5,"v":0.05},{"s":"d2 water","t":2.871e-5,"v":0.06},{"s":"d2 water","t":2.956e-5,"v":0.12},{"s":"d2 water","t":3.0e-5,"v":0.2},
{"s":"d2 saline","t":-3.0e-5,"v":0.31},{"s":"d2 saline","t":-2.931e-5,"v":0.41},{"s":"d2 saline","t":-2.871e-5,"v":0.5},{"s":"d2 saline","t":-2.802e-5,"v":0.57},{"s":"d2 saline","t":-2.742e-5,"v":0.62},{"s":"d2 saline","t":-2.699e-5,"v":0.65},{"s":"d2 saline","t":-2.656e-5,"v":0.62},{"s":"d2 saline","t":-2.596e-5,"v":0.56},{"s":"d2 saline","t":-2.528e-5,"v":0.49},{"s":"d2 saline","t":-2.468e-5,"v":0.41},{"s":"d2 saline","t":-2.399e-5,"v":0.33},{"s":"d2 saline","t":-2.339e-5,"v":0.26},{"s":"d2 saline","t":-2.271e-5,"v":0.2},{"s":"d2 saline","t":-2.211e-5,"v":0.15},{"s":"d2 saline","t":-2.142e-5,"v":0.11},{"s":"d2 saline","t":-2.057e-5,"v":0.08},{"s":"d2 saline","t":-1.971e-5,"v":0.06},{"s":"d2 saline","t":-1.885e-5,"v":0.05},{"s":"d2 saline","t":-1.757e-5,"v":0.05},{"s":"d2 saline","t":-1.671e-5,"v":0.05},{"s":"d2 saline","t":-1.585e-5,"v":0.05},{"s":"d2 saline","t":-1.5e-5,"v":0.05},{"s":"d2 saline","t":-1.414e-5,"v":0.05},{"s":"d2 saline","t":-1.328e-5,"v":0.05},{"s":"d2 saline","t":-1.268e-5,"v":0.06},{"s":"d2 saline","t":-1.2e-5,"v":0.1},{"s":"d2 saline","t":-1.14e-5,"v":0.15},{"s":"d2 saline","t":-1.071e-5,"v":0.23},{"s":"d2 saline","t":-1.011e-5,"v":0.31},{"s":"d2 saline","t":-0.943e-5,"v":0.41},{"s":"d2 saline","t":-0.883e-5,"v":0.5},{"s":"d2 saline","t":-0.814e-5,"v":0.57},{"s":"d2 saline","t":-0.754e-5,"v":0.62},{"s":"d2 saline","t":-0.711e-5,"v":0.63},{"s":"d2 saline","t":-0.668e-5,"v":0.61},{"s":"d2 saline","t":-0.608e-5,"v":0.55},{"s":"d2 saline","t":-0.54e-5,"v":0.48},{"s":"d2 saline","t":-0.48e-5,"v":0.4},{"s":"d2 saline","t":-0.411e-5,"v":0.32},{"s":"d2 saline","t":-0.351e-5,"v":0.25},{"s":"d2 saline","t":-0.283e-5,"v":0.19},{"s":"d2 saline","t":-0.223e-5,"v":0.15},{"s":"d2 saline","t":-0.154e-5,"v":0.11},{"s":"d2 saline","t":-0.069e-5,"v":0.08},{"s":"d2 saline","t":0.017e-5,"v":0.06},{"s":"d2 saline","t":0.103e-5,"v":0.05},{"s":"d2 saline","t":0.214e-5,"v":0.05},{"s":"d2 saline","t":0.3e-5,"v":0.05},{"s":"d2 saline","t":0.386e-5,"v":0.05},{"s":"d2 saline","t":0.471e-5,"v":0.05},{"s":"d2 saline","t":0.557e-5,"v":0.05},{"s":"d2 saline","t":0.643e-5,"v":0.05},{"s":"d2 saline","t":0.728e-5,"v":0.06},{"s":"d2 saline","t":0.797e-5,"v":0.1},{"s":"d2 saline","t":0.857e-5,"v":0.15},{"s":"d2 saline","t":0.925e-5,"v":0.23},{"s":"d2 saline","t":0.985e-5,"v":0.31},{"s":"d2 saline","t":1.054e-5,"v":0.41},{"s":"d2 saline","t":1.114e-5,"v":0.5},{"s":"d2 saline","t":1.183e-5,"v":0.56},{"s":"d2 saline","t":1.243e-5,"v":0.6},{"s":"d2 saline","t":1.285e-5,"v":0.61},{"s":"d2 saline","t":1.328e-5,"v":0.59},{"s":"d2 saline","t":1.388e-5,"v":0.54},{"s":"d2 saline","t":1.457e-5,"v":0.47},{"s":"d2 saline","t":1.517e-5,"v":0.4},{"s":"d2 saline","t":1.585e-5,"v":0.32},{"s":"d2 saline","t":1.645e-5,"v":0.25},{"s":"d2 saline","t":1.714e-5,"v":0.19},{"s":"d2 saline","t":1.774e-5,"v":0.15},{"s":"d2 saline","t":1.842e-5,"v":0.11},{"s":"d2 saline","t":1.928e-5,"v":0.08},{"s":"d2 saline","t":2.014e-5,"v":0.06},{"s":"d2 saline","t":2.099e-5,"v":0.05},{"s":"d2 saline","t":2.185e-5,"v":0.05},{"s":"d2 saline","t":2.271e-5,"v":0.05},{"s":"d2 saline","t":2.356e-5,"v":0.05},{"s":"d2 saline","t":2.442e-5,"v":0.05},{"s":"d2 saline","t":2.528e-5,"v":0.05},{"s":"d2 saline","t":2.614e-5,"v":0.05},{"s":"d2 saline","t":2.699e-5,"v":0.06},{"s":"d2 saline","t":2.785e-5,"v":0.07},{"s":"d2 saline","t":2.871e-5,"v":0.13},{"s":"d2 saline","t":2.939e-5,"v":0.22},{"s":"d2 saline","t":3.0e-5,"v":0.31}
],
"p4": [
{"s":"d2 control","t":-15.0e-6,"v":0.44},{"s":"d2 control","t":-14.52e-6,"v":0.62},{"s":"d2 control","t":-13.87e-6,"v":1.03},{"s":"d2 control","t":-13.23e-6,"v":1.39},{"s":"d2 control","t":-12.79e-6,"v":1.6},{"s":"d2 control","t":-12.36e-6,"v":1.8},{"s":"d2 control","t":-11.93e-6,"v":1.96},{"s":"d2 control","t":-11.49e-6,"v":2.09},{"s":"d2 control","t":-11.06e-6,"v":2.16},{"s":"d2 control","t":-10.63e-6,"v":2.19},{"s":"d2 control","t":-10.28e-6,"v":2.16},{"s":"d2 control","t":-9.98e-6,"v":2.09},{"s":"d2 control","t":-9.68e-6,"v":1.96},{"s":"d2 control","t":-9.33e-6,"v":1.8},{"s":"d2 control","t":-8.98e-6,"v":1.65},{"s":"d2 control","t":-8.68e-6,"v":1.49},{"s":"d2 control","t":-8.38e-6,"v":1.34},{"s":"d2 control","t":-8.03e-6,"v":1.19},{"s":"d2 control","t":-7.6e-6,"v":1.03},{"s":"d2 control","t":-7.16e-6,"v":0.88},{"s":"d2 control","t":-6.73e-6,"v":0.75},{"s":"d2 control","t":-6.3e-6,"v":0.62},{"s":"d2 control","t":-5.87e-6,"v":0.53},{"s":"d2 control","t":-5.43e-6,"v":0.46},{"s":"d2 control","t":-5.09e-6,"v":0.42},{"s":"d2 control","t":-4.78e-6,"v":0.41},{"s":"d2 control","t":-4.48e-6,"v":0.45},{"s":"d2 control","t":-4.13e-6,"v":0.57},{"s":"d2 control","t":-3.79e-6,"v":0.8},{"s":"d2 control","t":-3.49e-6,"v":1.03},{"s":"d2 control","t":-3.14e-6,"v":1.25},{"s":"d2 control","t":-2.84e-6,"v":1.44},{"s":"d2 control","t":-2.49e-6,"v":1.64},{"s":"d2 control","t":-2.19e-6,"v":1.8},{"s":"d2 control","t":-1.89e-6,"v":1.94},{"s":"d2 control","t":-1.54e-6,"v":2.06},{"s":"d2 control","t":-1.19e-6,"v":2.15},{"s":"d2 control","t":-0.8e-6,"v":2.19},{"s":"d2 control","t":-0.54e-6,"v":2.15},{"s":"d2 control","t":-0.24e-6,"v":2.06},{"s":"d2 control","t":0.11e-6,"v":1.88},{"s":"d2 control","t":0.41e-6,"v":1.7},{"s":"d2 control","t":0.71e-6,"v":1.55},{"s":"d2 control","t":1.06e-6,"v":1.39},{"s":"d2 control","t":1.41e-6,"v":1.25},{"s":"d2 control","t":1.71e-6,"v":1.13},{"s":"d2 control","t":2.06e-6,"v":1.03},{"s":"d2 control","t":2.36e-6,"v":0.93},{"s":"d2 control","t":2.79e-6,"v":0.82},{"s":"d2 control","t":3.23e-6,"v":0.72},{"s":"d2 control","t":3.66e-6,"v":0.64},{"s":"d2 control","t":4.09e-6,"v":0.57},{"s":"d2 control","t":4.52e-6,"v":0.52},{"s":"d2 control","t":4.96e-6,"v":0.49},{"s":"d2 control","t":5.26e-6,"v":0.52},{"s":"d2 control","t":5.6e-6,"v":0.67},{"s":"d2 control","t":5.91e-6,"v":0.85},{"s":"d2 control","t":6.26e-6,"v":1.03},{"s":"d2 control","t":6.6e-6,"v":1.22},{"s":"d2 control","t":6.91e-6,"v":1.39},{"s":"d2 control","t":7.21e-6,"v":1.6},{"s":"d2 control","t":7.56e-6,"v":1.8},{"s":"d2 control","t":7.99e-6,"v":1.97},{"s":"d2 control","t":8.42e-6,"v":2.11},{"s":"d2 control","t":8.85e-6,"v":2.18},{"s":"d2 control","t":9.2e-6,"v":2.2},{"s":"d2 control","t":9.46e-6,"v":2.15},{"s":"d2 control","t":9.76e-6,"v":2.06},{"s":"d2 control","t":10.11e-6,"v":1.88},{"s":"d2 control","t":10.41e-6,"v":1.7},{"s":"d2 control","t":10.71e-6,"v":1.55},{"s":"d2 control","t":11.06e-6,"v":1.39},{"s":"d2 control","t":11.41e-6,"v":1.25},{"s":"d2 control","t":11.71e-6,"v":1.13},{"s":"d2 control","t":12.06e-6,"v":1.03},{"s":"d2 control","t":12.36e-6,"v":0.93},{"s":"d2 control","t":12.79e-6,"v":0.82},{"s":"d2 control","t":13.23e-6,"v":0.72},{"s":"d2 control","t":13.66e-6,"v":0.64},{"s":"d2 control","t":14.09e-6,"v":0.57},{"s":"d2 control","t":14.52e-6,"v":0.52},{"s":"d2 control","t":15.0e-6,"v":0.46},
{"s":"d2 water","t":-15.0e-6,"v":0.75},{"s":"d2 water","t":-14.52e-6,"v":0.68},{"s":"d2 water","t":-14.09e-6,"v":0.57},{"s":"d2 water","t":-13.66e-6,"v":0.46},{"s":"d2 water","t":-13.23e-6,"v":0.36},{"s":"d2 water","t":-12.79e-6,"v":0.28},{"s":"d2 water","t":-12.36e-6,"v":0.21},{"s":"d2 water","t":-11.93e-6,"v":0.15},{"s":"d2 water","t":-11.49e-6,"v":0.1},{"s":"d2 water","t":-11.06e-6,"v":0.07},{"s":"d2 water","t":-10.63e-6,"v":0.04},{"s":"d2 water","t":-10.19e-6,"v":0.03},{"s":"d2 water","t":-9.76e-6,"v":0.02},{"s":"d2 water","t":-9.33e-6,"v":0.02},{"s":"d2 water","t":-8.9e-6,"v":0.03},{"s":"d2 water","t":-8.46e-6,"v":0.07},{"s":"d2 water","t":-8.03e-6,"v":0.15},{"s":"d2 water","t":-7.68e-6,"v":0.27},{"s":"d2 water","t":-7.38e-6,"v":0.41},{"s":"d2 water","t":-7.03e-6,"v":0.52},{"s":"d2 water","t":-6.73e-6,"v":0.62},{"s":"d2 water","t":-6.39e-6,"v":0.7},{"s":"d2 water","t":-6.08e-6,"v":0.75},{"s":"d2 water","t":-5.78e-6,"v":0.77},{"s":"d2 water","t":-5.43e-6,"v":0.78},{"s":"d2 water","t":-5.09e-6,"v":0.76},{"s":"d2 water","t":-4.78e-6,"v":0.72},{"s":"d2 water","t":-4.48e-6,"v":0.65},{"s":"d2 water","t":-4.13e-6,"v":0.57},{"s":"d2 water","t":-3.7e-6,"v":0.46},{"s":"d2 water","t":-3.27e-6,"v":0.36},{"s":"d2 water","t":-2.84e-6,"v":0.28},{"s":"d2 water","t":-2.4e-6,"v":0.21},{"s":"d2 water","t":-1.97e-6,"v":0.15},{"s":"d2 water","t":-1.54e-6,"v":0.1},{"s":"d2 water","t":-1.1e-6,"v":0.07},{"s":"d2 water","t":-0.67e-6,"v":0.04},{"s":"d2 water","t":-0.24e-6,"v":0.03},{"s":"d2 water","t":0.19e-6,"v":0.02},{"s":"d2 water","t":0.63e-6,"v":0.02},{"s":"d2 water","t":1.06e-6,"v":0.03},{"s":"d2 water","t":1.49e-6,"v":0.07},{"s":"d2 water","t":1.93e-6,"v":0.15},{"s":"d2 water","t":2.27e-6,"v":0.27},{"s":"d2 water","t":2.58e-6,"v":0.41},{"s":"d2 water","t":2.92e-6,"v":0.52},{"s":"d2 water","t":3.23e-6,"v":0.62},{"s":"d2 water","t":3.57e-6,"v":0.7},{"s":"d2 water","t":3.87e-6,"v":0.75},{"s":"d2 water","t":4.18e-6,"v":0.77},{"s":"d2 water","t":4.44e-6,"v":0.78},{"s":"d2 water","t":4.78e-6,"v":0.76},{"s":"d2 water","t":5.17e-6,"v":0.72},{"s":"d2 water","t":5.48e-6,"v":0.65},{"s":"d2 water","t":5.82e-6,"v":0.57},{"s":"d2 water","t":6.26e-6,"v":0.46},{"s":"d2 water","t":6.69e-6,"v":0.36},{"s":"d2 water","t":7.12e-6,"v":0.28},{"s":"d2 water","t":7.55e-6,"v":0.21},{"s":"d2 water","t":7.99e-6,"v":0.15},{"s":"d2 water","t":8.42e-6,"v":0.1},{"s":"d2 water","t":8.85e-6,"v":0.07},{"s":"d2 water","t":9.29e-6,"v":0.04},{"s":"d2 water","t":9.72e-6,"v":0.03},{"s":"d2 water","t":10.15e-6,"v":0.02},{"s":"d2 water","t":10.58e-6,"v":0.02},{"s":"d2 water","t":11.02e-6,"v":0.03},{"s":"d2 water","t":11.45e-6,"v":0.07},{"s":"d2 water","t":11.88e-6,"v":0.15},{"s":"d2 water","t":12.23e-6,"v":0.27},{"s":"d2 water","t":12.53e-6,"v":0.41},{"s":"d2 water","t":12.88e-6,"v":0.52},{"s":"d2 water","t":13.18e-6,"v":0.62},{"s":"d2 water","t":13.53e-6,"v":0.7},{"s":"d2 water","t":13.83e-6,"v":0.75},{"s":"d2 water","t":14.13e-6,"v":0.77},{"s":"d2 water","t":14.48e-6,"v":0.77},{"s":"d2 water","t":15.0e-6,"v":0.76},
{"s":"d2 saline","t":-15.0e-6,"v":0.46},{"s":"d2 saline","t":-14.52e-6,"v":0.41},{"s":"d2 saline","t":-14.09e-6,"v":0.36},{"s":"d2 saline","t":-13.66e-6,"v":0.31},{"s":"d2 saline","t":-13.23e-6,"v":0.26},{"s":"d2 saline","t":-12.79e-6,"v":0.22},{"s":"d2 saline","t":-12.36e-6,"v":0.18},{"s":"d2 saline","t":-11.93e-6,"v":0.14},{"s":"d2 saline","t":-11.49e-6,"v":0.11},{"s":"d2 saline","t":-11.06e-6,"v":0.09},{"s":"d2 saline","t":-10.63e-6,"v":0.07},{"s":"d2 saline","t":-10.19e-6,"v":0.05},{"s":"d2 saline","t":-9.76e-6,"v":0.03},{"s":"d2 saline","t":-9.33e-6,"v":0.02},{"s":"d2 saline","t":-8.9e-6,"v":0.02},{"s":"d2 saline","t":-8.46e-6,"v":0.03},{"s":"d2 saline","t":-8.03e-6,"v":0.05},{"s":"d2 saline","t":-7.6e-6,"v":0.1},{"s":"d2 saline","t":-7.16e-6,"v":0.15},{"s":"d2 saline","t":-6.73e-6,"v":0.23},{"s":"d2 saline","t":-6.3e-6,"v":0.31},{"s":"d2 saline","t":-5.87e-6,"v":0.38},{"s":"d2 saline","t":-5.43e-6,"v":0.46},{"s":"d2 saline","t":-5.0e-6,"v":0.49},{"s":"d2 saline","t":-4.57e-6,"v":0.46},{"s":"d2 saline","t":-4.13e-6,"v":0.41},{"s":"d2 saline","t":-3.7e-6,"v":0.36},{"s":"d2 saline","t":-3.27e-6,"v":0.31},{"s":"d2 saline","t":-2.84e-6,"v":0.26},{"s":"d2 saline","t":-2.4e-6,"v":0.22},{"s":"d2 saline","t":-1.97e-6,"v":0.18},{"s":"d2 saline","t":-1.54e-6,"v":0.14},{"s":"d2 saline","t":-1.1e-6,"v":0.1},{"s":"d2 saline","t":-0.67e-6,"v":0.08},{"s":"d2 saline","t":-0.24e-6,"v":0.05},{"s":"d2 saline","t":0.19e-6,"v":0.03},{"s":"d2 saline","t":0.63e-6,"v":0.02},{"s":"d2 saline","t":1.06e-6,"v":0.02},{"s":"d2 saline","t":1.49e-6,"v":0.03},{"s":"d2 saline","t":1.93e-6,"v":0.05},{"s":"d2 saline","t":2.36e-6,"v":0.11},{"s":"d2 saline","t":2.79e-6,"v":0.18},{"s":"d2 saline","t":3.23e-6,"v":0.27},{"s":"d2 saline","t":3.66e-6,"v":0.36},{"s":"d2 saline","t":4.09e-6,"v":0.42},{"s":"d2 saline","t":4.52e-6,"v":0.46},{"s":"d2 saline","t":4.87e-6,"v":0.47},{"s":"d2 saline","t":5.3e-6,"v":0.44},{"s":"d2 saline","t":5.82e-6,"v":0.39},{"s":"d2 saline","t":6.26e-6,"v":0.34},{"s":"d2 saline","t":6.69e-6,"v":0.3},{"s":"d2 saline","t":7.12e-6,"v":0.26},{"s":"d2 saline","t":7.55e-6,"v":0.22},{"s":"d2 saline","t":7.99e-6,"v":0.18},{"s":"d2 saline","t":8.42e-6,"v":0.14},{"s":"d2 saline","t":8.85e-6,"v":0.11},{"s":"d2 saline","t":9.29e-6,"v":0.08},{"s":"d2 saline","t":9.72e-6,"v":0.05},{"s":"d2 saline","t":10.15e-6,"v":0.03},{"s":"d2 saline","t":10.58e-6,"v":0.02},{"s":"d2 saline","t":11.02e-6,"v":0.02},{"s":"d2 saline","t":11.45e-6,"v":0.03},{"s":"d2 saline","t":11.88e-6,"v":0.05},{"s":"d2 saline","t":12.32e-6,"v":0.1},{"s":"d2 saline","t":12.75e-6,"v":0.15},{"s":"d2 saline","t":13.18e-6,"v":0.21},{"s":"d2 saline","t":13.61e-6,"v":0.26},{"s":"d2 saline","t":14.05e-6,"v":0.31},{"s":"d2 saline","t":14.48e-6,"v":0.36},{"s":"d2 saline","t":15.0e-6,"v":0.44}
],
"a1": [{"s":"d2 control","t":0.497,"v":3.16},{"s":"d2 water","t":0.81,"v":-0.08},{"s":"d2 saline","t":0.658,"v":0.575}],
"a2": [{"s":"d2 control","t":4.25e-5,"v":3.17},{"s":"d2 water","t":6.97e-5,"v":1.08},{"s":"d2 saline","t":-4.8e-5,"v":0.79}],
"a3": [{"s":"d2 control","t":1.242e-5,"v":2.44},{"s":"d2 water","t":1.885e-5,"v":0.75},{"s":"d2 saline","t":-0.531e-5,"v":0.16}],
"a4": [{"s":"d2 control","t":6.47e-6,"v":1.86},{"s":"d2 water","t":7.77e-6,"v":0.59},{"s":"d2 saline","t":3.87e-6,"v":0.11}],
"l1": [{"label":"1Hz","t":0.075,"v":3.7}],
"l2": [{"label":"10kHz","t":1.0e-5,"v":3.7}],
"l3": [{"label":"50kHz","t":0.171e-5,"v":2.8}],
"l4": [{"label":"100kHz","t":0.84e-6,"v":2.35}]
},
"resolve": {"scale": {"x": "independent", "y": "independent", "color": "independent", "shape": "independent", "stroke": "independent", "fill": "independent", "size": "independent"}, "legend": {"color": "independent", "shape": "independent", "stroke": "independent", "fill": "independent", "size": "independent"}, "axis": {"x": "independent", "y": "independent"}},
"concat": [
{"width": 249, "height": 162, "data": {"name": "p1"},
 "encoding": {
  "x": {"field": "t", "type": "quantitative", "scale": {"domain": [-1.5, 1.5], "nice": false, "zero": false},
        "axis": {"title": "Time (s)", "values": [-1.5, -1, -0.5, 0, 0.5, 1, 1.5], "labelExpr": "replace(format(datum.value, '~g'), '\u2212', '-')", "labelFontSize": 8.5}},
  "y": {"field": "v", "type": "quantitative", "scale": {"domain": [0, 4], "nice": false, "zero": false},
        "axis": {"title": "Drain signal (V)", "values": [0, 0.5, 1, 1.5, 2, 2.5, 3, 3.5, 4], "format": "~g", "offset": -124.5, "titleX": -132, "titleY": 81}}
 },
 "layer": [
  {"mark": {"type": "line", "strokeWidth": 2.2, "clip": true}, "encoding": {"color": {"field": "s", "type": "nominal", "scale": {"domain": ["d2 saline", "d2 water", "d2 control"], "range": ["#9c3a12", "#d35fd3", "#4a4aa6"]}, "legend": null}}},
  {"mark": {"type": "point", "filled": true, "strokeWidth": 0.9, "opacity": 1, "clip": true},
   "encoding": {
    "size": {"field": "s", "type": "nominal", "scale": {"domain": ["d2 water", "d2 saline", "d2 control"], "range": [28, 40, 32]}, "legend": null},
    "fill": {"field": "s", "type": "nominal", "scale": {"domain": ["d2 control", "d2 water", "d2 saline"], "range": ["#d2d2f0", "#f4c4f4", "#c07048"]},
             "legend": {"title": null, "orient": "none", "legendX": 180.5, "legendY": 58, "zindex": 1, "fillColor": "white", "padding": 2, "labelFont": "Liberation Serif", "labelFontSize": 12, "labelColor": "#000", "symbolSize": 49, "rowPadding": 0, "labelOffset": 6,
                        "encode": {"symbols": {"shape": {"value": {"signal": "datum.value === 'd2 control' ? 'M-1.6,0H-0.7M0.7,0H1.6M0,-0.7L0.7,0L0,0.7L-0.7,0Z' : datum.value === 'd2 water' ? 'M-1.6,0H-0.6M0.6,0H1.6M-0.6,-0.6H0.6V0.6H-0.6Z' : 'M-1.6,0.1H-0.44M0.44,0.1H1.6M0,-0.65L0.7,0.55H-0.7Z'"}}}}}},
    "stroke": {"field": "s", "type": "nominal", "scale": {"domain": ["d2 control", "d2 water", "d2 saline"], "range": ["#333399", "#cc33cc", "#993300"]},
             "legend": {"title": null, "orient": "none", "legendX": 180.5, "legendY": 58, "zindex": 1, "fillColor": "white", "padding": 2, "labelFont": "Liberation Serif", "labelFontSize": 12, "labelColor": "#000", "symbolSize": 49, "rowPadding": 0, "labelOffset": 6,
                        "encode": {"symbols": {"shape": {"value": {"signal": "datum.value === 'd2 control' ? 'M-1.6,0H-0.7M0.7,0H1.6M0,-0.7L0.7,0L0,0.7L-0.7,0Z' : datum.value === 'd2 water' ? 'M-1.6,0H-0.6M0.6,0H1.6M-0.6,-0.6H0.6V0.6H-0.6Z' : 'M-1.6,0.1H-0.44M0.44,0.1H1.6M0,-0.65L0.7,0.55H-0.7Z'"}}}}}},
    "shape": {"field": "s", "type": "nominal", "scale": {"domain": ["d2 control", "d2 water", "d2 saline"], "range": ["diamond", "square", "triangle-up"]},
              "legend": {"title": null, "orient": "none", "legendX": 180.5, "legendY": 58, "zindex": 1, "fillColor": "white", "padding": 2, "labelFont": "Liberation Serif", "labelFontSize": 12, "labelColor": "#000", "symbolSize": 49, "rowPadding": 0, "labelOffset": 6,
                         "encode": {"symbols": {"shape": {"value": {"signal": "datum.value === 'd2 control' ? 'M-1.6,0H-0.7M0.7,0H1.6M0,-0.7L0.7,0L0,0.7L-0.7,0Z' : datum.value === 'd2 water' ? 'M-1.6,0H-0.6M0.6,0H1.6M-0.6,-0.6H0.6V0.6H-0.6Z' : 'M-1.6,0.1H-0.44M0.44,0.1H1.6M0,-0.65L0.7,0.55H-0.7Z'"}}}}}}
   }},
  {"data": {"name": "a1"}, "mark": {"type": "point", "filled": false, "size": 210, "strokeWidth": 2, "opacity": 1},
   "encoding": {"shape": {"field": "s", "type": "nominal", "legend": {"title": null}}, "stroke": {"field": "s", "type": "nominal", "legend": {"title": null}}}},
  {"data": {"name": "l1"}, "mark": {"type": "text", "align": "left", "baseline": "middle", "font": "Liberation Serif", "fontWeight": "bold", "fontSize": 12, "color": "black"},
   "encoding": {"text": {"field": "label"}}}
 ]},
{"width": 232, "height": 162, "data": {"name": "p2"},
 "encoding": {
  "x": {"field": "t", "type": "quantitative", "scale": {"domain": [-1.575e-4, 1.584e-4], "nice": false, "zero": false},
        "axis": {"title": "Time (s)", "values": [-1.5e-4, -1e-4, -5e-5, 0, 5e-5, 1e-4, 1.5e-4], "labelExpr": "datum.value == 0 ? '0' : replace(replace(replace(replace(format(datum.value, '.1e'), 'e-4', '×10⁻⁴'), 'e-5', '×10⁻⁵'), 'e-6', '×10⁻⁶'), '\u2212', '-')", "labelFontSize": 7.5}},
  "y": {"field": "v", "type": "quantitative", "scale": {"domain": [0, 4], "nice": false, "zero": false},
        "axis": {"title": "Drain signal (V)", "values": [0, 0.5, 1, 1.5, 2, 2.5, 3, 3.5, 4], "format": "~g", "offset": -115.7, "titleX": -133.2, "titleY": 81}}
 },
 "layer": [
  {"mark": {"type": "line", "strokeWidth": 2.2, "clip": true}, "encoding": {"color": {"field": "s", "type": "nominal", "scale": {"domain": ["d2 saline", "d2 water", "d2 control"], "range": ["#9c3a12", "#d35fd3", "#4a4aa6"]}, "legend": null}}},
  {"mark": {"type": "point", "filled": true, "strokeWidth": 0.9, "opacity": 1, "clip": true},
   "encoding": {
    "size": {"field": "s", "type": "nominal", "scale": {"domain": ["d2 water", "d2 saline", "d2 control"], "range": [28, 40, 32]}, "legend": null},
    "fill": {"field": "s", "type": "nominal", "scale": {"domain": ["d2 control", "d2 water", "d2 saline"], "range": ["#d2d2f0", "#f4c4f4", "#c07048"]},
             "legend": {"title": null, "orient": "none", "legendX": 166.5, "legendY": 49, "zindex": 1, "fillColor": "white", "padding": 2, "labelFont": "Liberation Serif", "labelFontSize": 12, "labelColor": "#000", "symbolSize": 49, "rowPadding": 0, "labelOffset": 6,
                        "encode": {"symbols": {"shape": {"value": {"signal": "datum.value === 'd2 control' ? 'M-1.6,0H-0.7M0.7,0H1.6M0,-0.7L0.7,0L0,0.7L-0.7,0Z' : datum.value === 'd2 water' ? 'M-1.6,0H-0.6M0.6,0H1.6M-0.6,-0.6H0.6V0.6H-0.6Z' : 'M-1.6,0.1H-0.44M0.44,0.1H1.6M0,-0.65L0.7,0.55H-0.7Z'"}}}}}},
    "stroke": {"field": "s", "type": "nominal", "scale": {"domain": ["d2 control", "d2 water", "d2 saline"], "range": ["#333399", "#cc33cc", "#993300"]},
             "legend": {"title": null, "orient": "none", "legendX": 166.5, "legendY": 49, "zindex": 1, "fillColor": "white", "padding": 2, "labelFont": "Liberation Serif", "labelFontSize": 12, "labelColor": "#000", "symbolSize": 49, "rowPadding": 0, "labelOffset": 6,
                        "encode": {"symbols": {"shape": {"value": {"signal": "datum.value === 'd2 control' ? 'M-1.6,0H-0.7M0.7,0H1.6M0,-0.7L0.7,0L0,0.7L-0.7,0Z' : datum.value === 'd2 water' ? 'M-1.6,0H-0.6M0.6,0H1.6M-0.6,-0.6H0.6V0.6H-0.6Z' : 'M-1.6,0.1H-0.44M0.44,0.1H1.6M0,-0.65L0.7,0.55H-0.7Z'"}}}}}},
    "shape": {"field": "s", "type": "nominal", "scale": {"domain": ["d2 control", "d2 water", "d2 saline"], "range": ["diamond", "square", "triangle-up"]},
              "legend": {"title": null, "orient": "none", "legendX": 166.5, "legendY": 49, "zindex": 1, "fillColor": "white", "padding": 2, "labelFont": "Liberation Serif", "labelFontSize": 12, "labelColor": "#000", "symbolSize": 49, "rowPadding": 0, "labelOffset": 6,
                         "encode": {"symbols": {"shape": {"value": {"signal": "datum.value === 'd2 control' ? 'M-1.6,0H-0.7M0.7,0H1.6M0,-0.7L0.7,0L0,0.7L-0.7,0Z' : datum.value === 'd2 water' ? 'M-1.6,0H-0.6M0.6,0H1.6M-0.6,-0.6H0.6V0.6H-0.6Z' : 'M-1.6,0.1H-0.44M0.44,0.1H1.6M0,-0.65L0.7,0.55H-0.7Z'"}}}}}}
   }},
  {"data": {"name": "a2"}, "mark": {"type": "point", "filled": false, "size": 130, "strokeWidth": 2, "opacity": 1},
   "encoding": {"shape": {"field": "s", "type": "nominal", "legend": {"title": null}}, "stroke": {"field": "s", "type": "nominal", "legend": {"title": null}}}},
  {"data": {"name": "l2"}, "mark": {"type": "text", "align": "left", "baseline": "middle", "font": "Liberation Serif", "fontWeight": "bold", "fontSize": 12, "color": "black"},
   "encoding": {"text": {"field": "label"}}}
 ]},
{"width": 241, "height": 162, "data": {"name": "p3"},
 "encoding": {
  "x": {"field": "t", "type": "quantitative", "scale": {"domain": [-3.206e-5, 3e-5], "nice": false, "zero": false},
        "axis": {"title": "Time (s)", "values": [-3e-5, -2e-5, -1e-5, 0, 1e-5, 2e-5, 3e-5], "labelExpr": "datum.value == 0 ? '0' : replace(replace(replace(replace(format(datum.value, '.1e'), 'e-4', '×10⁻⁴'), 'e-5', '×10⁻⁵'), 'e-6', '×10⁻⁶'), '\u2212', '-')", "labelFontSize": 7.5}},
  "y": {"field": "v", "type": "quantitative", "scale": {"domain": [0, 3], "nice": false, "zero": false},
        "axis": {"title": "Drain signal (V)", "values": [0, 0.5, 1, 1.5, 2, 2.5, 3], "format": "~g", "offset": -124.5, "titleX": -133.5, "titleY": 84}}
 },
 "layer": [
  {"mark": {"type": "line", "strokeWidth": 2.2, "clip": true}, "encoding": {"color": {"field": "s", "type": "nominal", "scale": {"domain": ["d2 saline", "d2 water", "d2 control"], "range": ["#9c3a12", "#d35fd3", "#4a4aa6"]}, "legend": null}}},
  {"mark": {"type": "point", "filled": true, "strokeWidth": 0.9, "opacity": 1, "clip": true},
   "encoding": {
    "size": {"field": "s", "type": "nominal", "scale": {"domain": ["d2 water", "d2 saline", "d2 control"], "range": [28, 40, 32]}, "legend": null},
    "fill": {"field": "s", "type": "nominal", "scale": {"domain": ["d2 control", "d2 water", "d2 saline"], "range": ["#d2d2f0", "#f4c4f4", "#c07048"]},
             "legend": {"title": null, "orient": "none", "legendX": 177.5, "legendY": 59, "zindex": 1, "fillColor": "white", "padding": 2, "labelFont": "Liberation Serif", "labelFontSize": 12, "labelColor": "#000", "symbolSize": 49, "rowPadding": 1, "labelOffset": 6,
                        "encode": {"symbols": {"shape": {"value": {"signal": "datum.value === 'd2 control' ? 'M-1.6,0H-0.7M0.7,0H1.6M0,-0.7L0.7,0L0,0.7L-0.7,0Z' : datum.value === 'd2 water' ? 'M-1.6,0H-0.6M0.6,0H1.6M-0.6,-0.6H0.6V0.6H-0.6Z' : 'M-1.6,0.1H-0.44M0.44,0.1H1.6M0,-0.65L0.7,0.55H-0.7Z'"}}}}}},
    "stroke": {"field": "s", "type": "nominal", "scale": {"domain": ["d2 control", "d2 water", "d2 saline"], "range": ["#333399", "#cc33cc", "#993300"]},
             "legend": {"title": null, "orient": "none", "legendX": 177.5, "legendY": 59, "zindex": 1, "fillColor": "white", "padding": 2, "labelFont": "Liberation Serif", "labelFontSize": 12, "labelColor": "#000", "symbolSize": 49, "rowPadding": 1, "labelOffset": 6,
                        "encode": {"symbols": {"shape": {"value": {"signal": "datum.value === 'd2 control' ? 'M-1.6,0H-0.7M0.7,0H1.6M0,-0.7L0.7,0L0,0.7L-0.7,0Z' : datum.value === 'd2 water' ? 'M-1.6,0H-0.6M0.6,0H1.6M-0.6,-0.6H0.6V0.6H-0.6Z' : 'M-1.6,0.1H-0.44M0.44,0.1H1.6M0,-0.65L0.7,0.55H-0.7Z'"}}}}}},
    "shape": {"field": "s", "type": "nominal", "scale": {"domain": ["d2 control", "d2 water", "d2 saline"], "range": ["diamond", "square", "triangle-up"]},
              "legend": {"title": null, "orient": "none", "legendX": 177.5, "legendY": 59, "zindex": 1, "fillColor": "white", "padding": 2, "labelFont": "Liberation Serif", "labelFontSize": 12, "labelColor": "#000", "symbolSize": 49, "rowPadding": 1, "labelOffset": 6,
                         "encode": {"symbols": {"shape": {"value": {"signal": "datum.value === 'd2 control' ? 'M-1.6,0H-0.7M0.7,0H1.6M0,-0.7L0.7,0L0,0.7L-0.7,0Z' : datum.value === 'd2 water' ? 'M-1.6,0H-0.6M0.6,0H1.6M-0.6,-0.6H0.6V0.6H-0.6Z' : 'M-1.6,0.1H-0.44M0.44,0.1H1.6M0,-0.65L0.7,0.55H-0.7Z'"}}}}}}
   }},
  {"data": {"name": "a3"}, "mark": {"type": "point", "filled": false, "size": 190, "strokeWidth": 2, "opacity": 1},
   "encoding": {"shape": {"field": "s", "type": "nominal", "legend": {"title": null}}, "stroke": {"field": "s", "type": "nominal", "legend": {"title": null}}}},
  {"data": {"name": "l3"}, "mark": {"type": "text", "align": "left", "baseline": "middle", "font": "Liberation Serif", "fontWeight": "bold", "fontSize": 12, "color": "black"},
   "encoding": {"text": {"field": "label"}}}
 ]},
{"width": 233.5, "height": 163, "data": {"name": "p4"},
 "encoding": {
  "x": {"field": "t", "type": "quantitative", "scale": {"domain": [-1.5325e-5, 1.5e-5], "nice": false, "zero": false},
        "axis": {"title": "Time (s)", "values": [-1.5e-5, -1e-5, -5e-6, 0, 5e-6, 1e-5, 1.5e-5], "labelExpr": "datum.value == 0 ? '0' : replace(replace(replace(replace(format(datum.value, '.1e'), 'e-4', '×10⁻⁴'), 'e-5', '×10⁻⁵'), 'e-6', '×10⁻⁶'), '\u2212', '-')", "labelFontSize": 7.5}},
  "y": {"field": "v", "type": "quantitative", "scale": {"domain": [0, 2.5], "nice": false, "zero": false},
        "axis": {"title": "Drain signal (V)", "values": [0, 0.5, 1, 1.5, 2, 2.5], "format": "~g", "offset": -118, "titleX": -133, "titleY": 84}}
 },
 "layer": [
  {"mark": {"type": "line", "strokeWidth": 2.2, "clip": true}, "encoding": {"color": {"field": "s", "type": "nominal", "scale": {"domain": ["d2 saline", "d2 water", "d2 control"], "range": ["#9c3a12", "#d35fd3", "#4a4aa6"]}, "legend": null}}},
  {"mark": {"type": "point", "filled": true, "strokeWidth": 0.9, "opacity": 1, "clip": true},
   "encoding": {
    "size": {"field": "s", "type": "nominal", "scale": {"domain": ["d2 water", "d2 saline", "d2 control"], "range": [28, 40, 32]}, "legend": null},
    "fill": {"field": "s", "type": "nominal", "scale": {"domain": ["d2 control", "d2 water", "d2 saline"], "range": ["#d2d2f0", "#f4c4f4", "#c07048"]},
             "legend": {"title": null, "orient": "none", "legendX": 172, "legendY": 60, "zindex": 1, "fillColor": "white", "padding": 2, "labelFont": "Liberation Serif", "labelFontSize": 12, "labelColor": "#000", "symbolSize": 49, "rowPadding": 0, "labelOffset": 6,
                        "encode": {"symbols": {"shape": {"value": {"signal": "datum.value === 'd2 control' ? 'M-1.6,0H-0.7M0.7,0H1.6M0,-0.7L0.7,0L0,0.7L-0.7,0Z' : datum.value === 'd2 water' ? 'M-1.6,0H-0.6M0.6,0H1.6M-0.6,-0.6H0.6V0.6H-0.6Z' : 'M-1.6,0.1H-0.44M0.44,0.1H1.6M0,-0.65L0.7,0.55H-0.7Z'"}}}}}},
    "stroke": {"field": "s", "type": "nominal", "scale": {"domain": ["d2 control", "d2 water", "d2 saline"], "range": ["#333399", "#cc33cc", "#993300"]},
             "legend": {"title": null, "orient": "none", "legendX": 172, "legendY": 60, "zindex": 1, "fillColor": "white", "padding": 2, "labelFont": "Liberation Serif", "labelFontSize": 12, "labelColor": "#000", "symbolSize": 49, "rowPadding": 0, "labelOffset": 6,
                        "encode": {"symbols": {"shape": {"value": {"signal": "datum.value === 'd2 control' ? 'M-1.6,0H-0.7M0.7,0H1.6M0,-0.7L0.7,0L0,0.7L-0.7,0Z' : datum.value === 'd2 water' ? 'M-1.6,0H-0.6M0.6,0H1.6M-0.6,-0.6H0.6V0.6H-0.6Z' : 'M-1.6,0.1H-0.44M0.44,0.1H1.6M0,-0.65L0.7,0.55H-0.7Z'"}}}}}},
    "shape": {"field": "s", "type": "nominal", "scale": {"domain": ["d2 control", "d2 water", "d2 saline"], "range": ["diamond", "square", "triangle-up"]},
              "legend": {"title": null, "orient": "none", "legendX": 172, "legendY": 60, "zindex": 1, "fillColor": "white", "padding": 2, "labelFont": "Liberation Serif", "labelFontSize": 12, "labelColor": "#000", "symbolSize": 49, "rowPadding": 0, "labelOffset": 6,
                         "encode": {"symbols": {"shape": {"value": {"signal": "datum.value === 'd2 control' ? 'M-1.6,0H-0.7M0.7,0H1.6M0,-0.7L0.7,0L0,0.7L-0.7,0Z' : datum.value === 'd2 water' ? 'M-1.6,0H-0.6M0.6,0H1.6M-0.6,-0.6H0.6V0.6H-0.6Z' : 'M-1.6,0.1H-0.44M0.44,0.1H1.6M0,-0.65L0.7,0.55H-0.7Z'"}}}}}}
   }},
  {"data": {"name": "a4"}, "mark": {"type": "point", "filled": false, "size": 170, "strokeWidth": 2, "opacity": 1},
   "encoding": {"shape": {"field": "s", "type": "nominal", "legend": {"title": null}}, "stroke": {"field": "s", "type": "nominal", "legend": {"title": null}}}},
  {"data": {"name": "l4"}, "mark": {"type": "text", "align": "left", "baseline": "middle", "font": "Liberation Serif", "fontWeight": "bold", "fontSize": 12, "color": "black"},
   "encoding": {"text": {"field": "label"}}}
 ]}
],
"config": {
 "font": "Liberation Serif",
 "view": {"stroke": "#a6a6a6", "strokeWidth": 1},
 "axis": {"labelFont": "Liberation Serif", "titleFont": "Liberation Serif", "titleFontWeight": "normal", "grid": false},
 "axisX": {"domain": false, "ticks": false, "labelPadding": 3, "titlePadding": 3, "labelFlush": false, "labelOverlap": false, "labelBound": false, "labelColor": "#222", "titleColor": "#111", "titleFontSize": 10.5},
 "axisY": {"domainColor": "#8a8a8a", "tickColor": "#8a8a8a", "tickSize": 2.5, "labelFontSize": 7, "labelPadding": 1, "labelColor": "#666", "titleColor": "#555", "titleFontSize": 11, "titleAngle": -90, "titleBaseline": "middle", "titleAlign": "center", "labelOverlap": false, "labelFlush": false},
 "legend": {"labelFont": "Liberation Serif", "labelFontSize": 12, "labelColor": "#000", "symbolSize": 49, "symbolStrokeWidth": 1, "rowPadding": 0, "labelOffset": 6}
}
}
